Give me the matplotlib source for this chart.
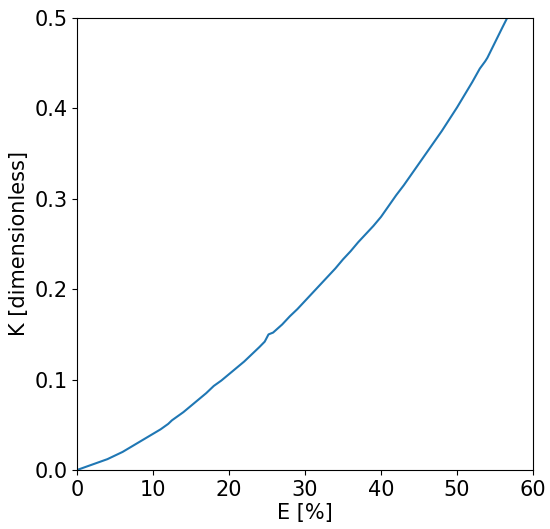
import matplotlib
matplotlib.use("Agg")
import matplotlib.pyplot as plt

# E [%] vs K
strain = [0, 1, 2, 3, 4, 5, 6, 7, 8, 9, 10, 11, 12, 12.5, 13, 14, 15, 16, 17, 18,
          19, 20, 21, 22, 23, 24, 24.7, 25.2, 25.8, 27, 28, 29, 30, 31, 32, 33, 34,
          35, 36, 37, 38, 39, 40, 41, 42, 43, 44, 45, 46, 47, 48, 49, 50, 51, 52,
          53, 53.7, 54, 55, 56, 56.6]
k_values = [0, 0.003, 0.006, 0.009, 0.012, 0.016, 0.020, 0.025, 0.030, 0.035, 0.040,
            0.045, 0.051, 0.055, 0.058, 0.064, 0.071, 0.078, 0.085, 0.093, 0.099,
            0.106, 0.113, 0.120, 0.128, 0.136, 0.142, 0.150, 0.152, 0.161, 0.170,
            0.178, 0.187, 0.196, 0.205, 0.214, 0.223, 0.233, 0.242, 0.252, 0.261,
            0.270, 0.280, 0.292, 0.304, 0.315, 0.327, 0.339, 0.351, 0.363, 0.375,
            0.388, 0.401, 0.415, 0.429, 0.444, 0.452, 0.456, 0.473, 0.490, 0.500]

fig = plt.figure(figsize=(5.5, 5.29), dpi=100)
ax = fig.add_axes([77 / 550, 1 - 470 / 529, 456 / 550, 452 / 529])
ax.plot(strain, k_values, color="#1f77b4", linewidth=1.5)
ax.set_xlim(0, 60)
ax.set_ylim(0, 0.5)
ax.set_xlabel("E [%]", fontsize=15, labelpad=2)
ax.set_ylabel("K [dimensionless]", fontsize=15)
ax.tick_params(labelsize=15)
fig.savefig("out.png", dpi=100)
